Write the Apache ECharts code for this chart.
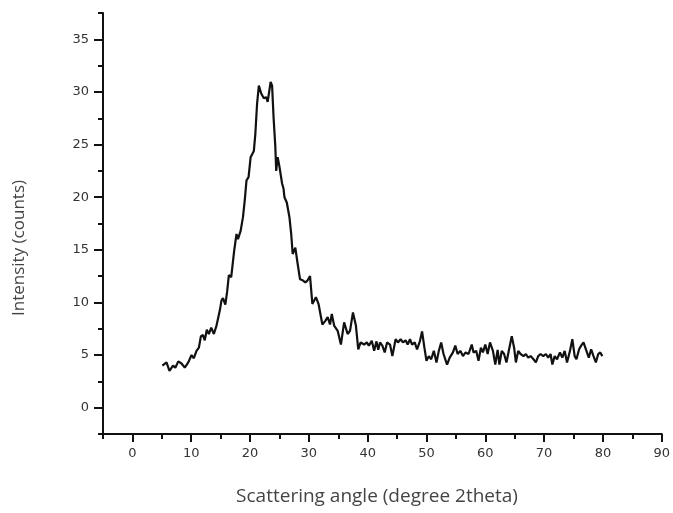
<!DOCTYPE html>
<html>
<head>
<meta charset="utf-8">
<script src="https://cdn.jsdelivr.net/npm/echarts@6/dist/echarts.min.js"></script>
<style>
html,body{margin:0;padding:0;background:#fff;}
#chart{width:673px;height:513px;}
</style>
</head>
<body>
<div id="chart"></div>
<script>
// Data
var angle = [5.1,5.8,6.3,6.9,7.3,7.8,8.35,8.9,9.5,10.05,10.45,10.9,11.3,11.65,12.0,12.3,12.65,13.0,13.4,13.85,14.3,14.85,15.15,15.4,15.8,16.1,16.4,16.8,17.3,17.7,17.95,18.4,18.8,19.1,19.4,19.75,20.1,20.65,20.9,21.2,21.5,21.9,22.35,22.75,23.0,23.5,23.75,24.0,24.3,24.45,24.7,25.0,25.45,25.7,25.85,26.25,26.7,27.0,27.25,27.7,28.1,28.5,28.95,29.4,29.8,30.2,30.6,31.2,31.65,32.3,32.8,33.2,33.6,33.9,34.3,34.9,35.45,36.0,36.6,37.0,37.5,38.0,38.4,38.8,39.4,39.85,40.2,40.7,41.1,41.5,41.8,42.1,42.5,42.9,43.3,43.8,44.2,44.75,45.15,45.6,46.0,46.45,46.8,47.2,47.55,48.0,48.4,48.9,49.25,49.65,50.0,50.4,50.8,51.25,51.7,52.1,52.5,52.9,53.5,53.95,54.5,54.9,55.3,55.75,56.2,56.65,57.15,57.7,58.0,58.45,58.85,59.25,59.6,60.0,60.4,60.8,61.3,61.7,62.1,62.4,62.8,63.2,63.6,64.1,64.5,64.9,65.2,65.6,66.0,66.5,66.9,67.3,67.7,68.2,68.6,69.0,69.4,69.85,70.3,70.7,71.1,71.4,71.8,72.2,72.7,73.1,73.5,73.9,74.4,74.8,75.2,75.5,75.95,76.3,76.7,77.2,77.6,78.0,78.4,78.8,79.2,79.55,79.9];
var intensity = [4.0,4.3,3.5,4.0,3.8,4.4,4.2,3.8,4.3,5.0,4.7,5.4,5.7,6.8,6.9,6.4,7.4,7.0,7.6,7.0,7.8,9.2,10.2,10.4,9.8,11.0,12.6,12.4,14.9,16.5,16.0,16.8,18.1,19.7,21.6,21.9,23.8,24.4,26.0,28.9,30.6,29.85,29.4,29.5,29.05,30.95,30.6,27.6,24.8,22.5,23.8,22.9,21.3,20.8,20.0,19.5,18.1,16.5,14.6,15.2,13.65,12.2,12.1,11.9,12.1,12.5,9.85,10.5,9.85,7.9,8.25,8.6,7.9,8.9,7.8,7.3,6.0,8.1,7.0,7.3,9.05,7.8,5.55,6.2,6.0,6.2,5.9,6.35,5.4,6.3,5.5,6.2,5.9,5.25,6.2,6.0,4.9,6.5,6.2,6.5,6.2,6.4,6.0,6.5,6.0,6.2,5.55,6.35,7.25,5.7,4.45,4.9,4.6,5.4,4.3,5.4,6.2,5.1,4.1,4.76,5.25,5.9,5.1,5.4,4.9,5.25,5.1,6.0,5.25,5.4,4.45,5.7,5.25,6.0,5.1,6.2,5.4,4.1,5.5,4.1,5.4,5.1,4.3,5.7,6.8,5.7,4.3,5.4,5.1,4.9,5.1,4.76,4.9,4.6,4.3,4.9,5.1,4.9,5.1,4.76,5.1,4.1,4.9,4.6,5.25,4.76,5.4,4.3,5.4,6.5,4.9,4.6,5.55,5.9,6.2,5.4,4.76,5.55,4.9,4.3,5.1,5.25,4.9];
var xMajorTicks = [0,10,20,30,40,50,60,70,80,90];
var yMajorTicks = [0,5,10,15,20,25,30,35];
var xTitle = 'Scattering angle (degree 2theta)';
var yTitle = 'Intensity (counts)';

var chart = echarts.init(document.getElementById('chart'), null, {renderer: 'canvas'});
var pts = angle.map(function (a, i) { return [a, intensity[i]]; });
var labelFont = {color: '#333', fontSize: 13, fontFamily: 'DejaVu Sans'};
var lineStyle = {color: '#111', width: 2};

var option = {
  animation: false,
  backgroundColor: '#fff',
  grid: {left: 103, right: 9, top: 13, bottom: 79, containLabel: false},
  xAxis: [{
    type: 'value', min: -5, max: 90, interval: 5, position: 'bottom',
    axisLine: {show: true, onZero: false, lineStyle: lineStyle},
    axisTick: {show: true, length: 5, lineStyle: lineStyle},
    splitLine: {show: false},
    axisLabel: Object.assign({margin: 13, formatter: function (v) { return (v % 10 === 0) ? String(v) : ''; }}, labelFont)
  }, {
    type: 'value', min: -5, max: 90, position: 'bottom',
    axisLine: {show: false, onZero: false},
    axisTick: {show: true, length: 8, lineStyle: lineStyle, customValues: xMajorTicks},
    splitLine: {show: false},
    axisLabel: {show: false}
  }],
  yAxis: [{
    type: 'value', min: -2.5, max: 37.5, interval: 2.5, position: 'left',
    axisLine: {show: true, onZero: false, lineStyle: lineStyle},
    axisTick: {show: true, length: 5, lineStyle: lineStyle},
    splitLine: {show: false},
    axisLabel: Object.assign({margin: 14, formatter: function (v) { return (v % 5 === 0) ? String(v) : ''; }}, labelFont)
  }, {
    type: 'value', min: -2.5, max: 37.5, position: 'left',
    axisLine: {show: false, onZero: false},
    axisTick: {show: true, length: 9, lineStyle: lineStyle, customValues: yMajorTicks},
    splitLine: {show: false},
    axisLabel: {show: false}
  }],
  graphic: [{
    type: 'text', x: 377, y: 497,
    style: {text: xTitle, fill: '#444', font: '19px "Open Sans"', textAlign: 'center', textVerticalAlign: 'middle'}
  }, {
    type: 'text', x: 19, y: 248, rotation: Math.PI / 2,
    style: {text: yTitle, fill: '#444', font: '17px "Open Sans"', textAlign: 'center', textVerticalAlign: 'middle'}
  }],
  series: [{
    type: 'line', xAxisIndex: 0, yAxisIndex: 0,
    data: pts, showSymbol: false, smooth: false,
    lineStyle: {color: '#111', width: 2.2}
  }]
};
chart.setOption(option);
</script>
</body>
</html>
